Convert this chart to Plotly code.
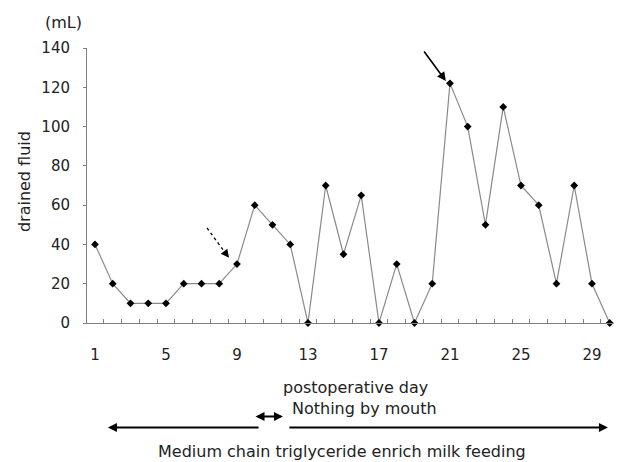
import plotly.graph_objects as go

days = list(range(1, 31))
drained_ml = [40, 20, 10, 10, 10, 20, 20, 20, 30, 60, 50, 40, 0, 70, 35, 65, 0, 30, 0, 20,
              122, 100, 50, 110, 70, 60, 20, 70, 20, 0]
x_tick_vals = [1, 5, 9, 13, 17, 21, 25, 29]
y_tick_vals = [0, 20, 40, 60, 80, 100, 120, 140]

FONT = "DejaVu Sans"
AX = "#808080"

fig = go.Figure()
fig.add_trace(go.Scatter(
    x=days, y=drained_ml, mode="lines+markers",
    line=dict(color="#8a8a8a", width=1.2),
    marker=dict(symbol="diamond", size=6, color="black"),
    showlegend=False, hoverinfo="skip", cliponaxis=False))

# dashed arrow (shaft) + head
fig.add_shape(type="line", xref="x", yref="y", x0=7.31, y0=48.4, x1=8.3, y1=36.2,
              line=dict(color="black", width=1.3, dash="dot"))
fig.add_annotation(x=8.55, y=33.2, ax=8.25, ay=36.8, xref="x", yref="y", axref="x", ayref="y",
                   text="", showarrow=True, arrowhead=2, arrowsize=1.1, arrowwidth=1.5, arrowcolor="black")
# solid arrow to peak
fig.add_annotation(x=20.77, y=123.2, ax=19.48, ay=139, xref="x", yref="y", axref="x", ayref="y",
                   text="", showarrow=True, arrowhead=2, arrowsize=1.1, arrowwidth=1.6, arrowcolor="black")

# bottom arrows
fig.add_annotation(x=1.73, y=-0.380, ax=10.3, ay=0, xref="x", yref="paper", axref="x", ayref="pixel",
                   text="", showarrow=True, arrowhead=2, arrowsize=1.0, arrowwidth=1.8, arrowcolor="black")
fig.add_annotation(x=29.9, y=-0.380, ax=11.87, ay=0, xref="x", yref="paper", axref="x", ayref="pixel",
                   text="", showarrow=True, arrowhead=2, arrowsize=1.0, arrowwidth=1.8, arrowcolor="black")
fig.add_annotation(x=11.59, y=-0.340, ax=9.96, ay=0, xref="x", yref="paper", axref="x", ayref="pixel",
                   text="", showarrow=True, arrowhead=2, arrowside="end+start", arrowsize=1.0,
                   arrowwidth=1.8, arrowcolor="black")

txt = dict(family=FONT, size=16, color="#222222")
fig.add_annotation(x=0.503, y=-0.235, xref="paper", yref="paper", text="postoperative day",
                   showarrow=False, font=txt, xanchor="center", yanchor="middle")
fig.add_annotation(x=0.5206, y=-0.311, xref="paper", yref="paper", text="Nothing by mouth",
                   showarrow=False, font=txt, xanchor="center", yanchor="middle")
fig.add_annotation(x=0.4775, y=-0.466, xref="paper", yref="paper",
                   text="Medium chain triglyceride enrich milk feeding",
                   showarrow=False, font=txt, xanchor="center", yanchor="middle")
fig.add_annotation(x=-0.045, y=1.091, xref="paper", yref="paper", text="(mL)",
                   showarrow=False, font=txt, xanchor="center", yanchor="middle")
fig.add_annotation(x=-0.116, y=0.513, xref="paper", yref="paper", text="drained fluid",
                   showarrow=False, font=txt, textangle=-90, xanchor="center", yanchor="middle")

# the page body has an 8px default margin, so the figure is 8px smaller on each used side
fig.update_layout(
    width=614, height=454,
    margin=dict(l=79, r=2, t=40, b=139),
    paper_bgcolor="white", plot_bgcolor="white",
    font=dict(family=FONT, size=15, color="#222222"),
    xaxis=dict(range=[0.55, 30.58], tickmode="array", tickvals=x_tick_vals,
               ticks="", ticklabelstandoff=18, showgrid=False, zeroline=False,
               showline=True, linecolor=AX, linewidth=1,
               tickfont=dict(family=FONT, size=15, color="#222222"),
               minor=dict(ticks="inside", tick0=0.5, dtick=1, ticklen=4, tickcolor=AX, showgrid=False)),
    yaxis=dict(range=[0, 140], tickmode="array", tickvals=y_tick_vals,
               ticks="outside", ticklen=3, tickcolor=AX, ticklabelstandoff=10,
               showgrid=False, zeroline=False, showline=True, linecolor=AX, linewidth=1,
               tickfont=dict(family=FONT, size=15, color="#222222")),
)

fig.write_html("out.html")
